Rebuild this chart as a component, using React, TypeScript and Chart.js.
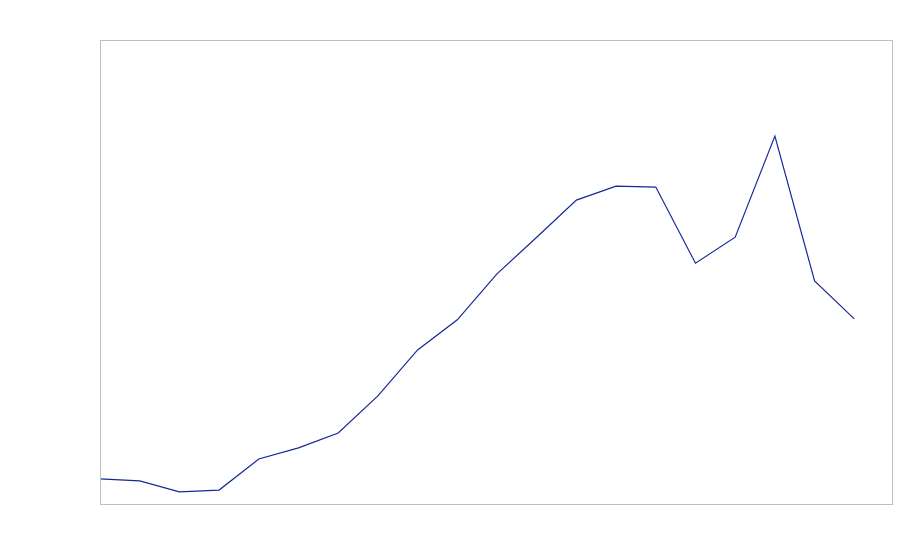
import React, { useEffect, useRef } from "react";
import { Chart, registerables } from "chart.js";

Chart.register(...registerables);

const labels: string[] = [
  "1", "2", "3", "4", "5", "6", "7", "8", "9", "10",
  "11", "12", "13", "14", "15", "16", "17", "18", "19", "20",
];
const values: number[] = [
  5.4, 5.0, 2.6, 3.0, 9.7, 12.1, 15.3, 23.3, 33.2, 39.7,
  49.6, 57.5, 65.5, 68.5, 68.3, 51.9, 57.5, 79.3, 48.1, 39.9,
];

const frame = {
  id: "frame",
  afterDraw(chart: any) {
    const { ctx, chartArea } = chart;
    ctx.save();
    ctx.strokeStyle = "#bfbfbf";
    ctx.lineWidth = 1;
    ctx.strokeRect(
      Math.round(chartArea.left) + 0.5,
      Math.round(chartArea.top) + 0.5,
      Math.round(chartArea.right - chartArea.left),
      Math.round(chartArea.bottom - chartArea.top)
    );
    ctx.restore();
  },
};

export default function App() {
  const ref = useRef<HTMLCanvasElement | null>(null);
  useEffect(() => {
    document.body.style.margin = "0";
    if (!ref.current) return;
    const chart = new Chart(ref.current, {
      type: "line",
      data: {
        datasets: [
          {
            data: labels.map((_, i) => ({ x: i, y: values[i] })),
            borderColor: "#14289a",
            borderWidth: 1.2,
            pointRadius: 0,
            tension: 0,
            fill: false,
          },
        ],
      },
      options: {
        animation: false,
        responsive: false,
        layout: { padding: { left: 100, top: 40, right: 8, bottom: 56 } },
        plugins: { legend: { display: false }, tooltip: { enabled: false } },
        scales: {
          x: { type: "linear", display: false, min: 0, max: 19.95 },
          y: { display: false, min: 0, max: 100 },
        },
      },
      plugins: [frame],
    });
    return () => chart.destroy();
  }, []);
  return (
    <div style={{ width: 900, height: 560 }}>
      <canvas ref={ref} width={900} height={560} />
    </div>
  );
}
